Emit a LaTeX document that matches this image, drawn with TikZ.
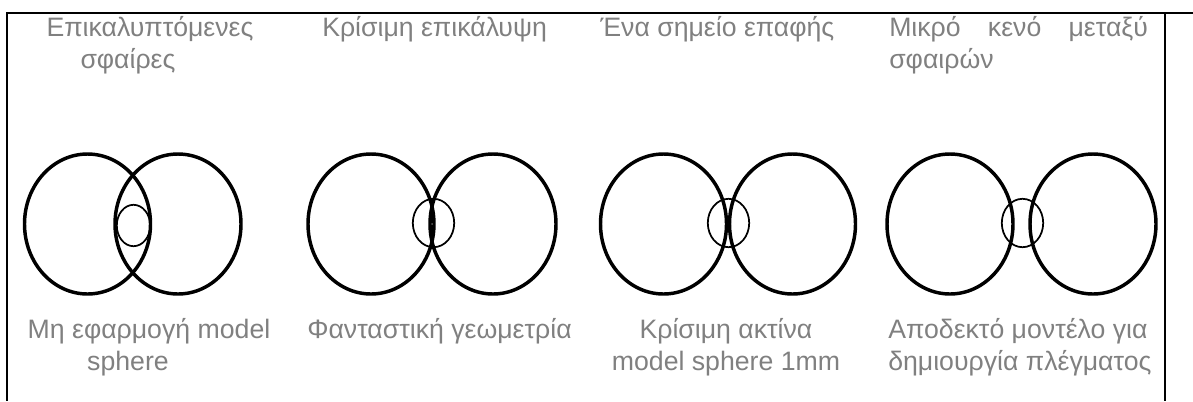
\documentclass[tikz,border=0pt]{standalone}
\usepackage{fontspec}
\setmainfont{Liberation Sans}
\definecolor{txtgray}{RGB}{128,128,128}
\tikzset{
  lbl/.style={inner sep=0pt, text=txtgray, font=\fontsize{20pt}{24pt}\selectfont},
  big/.style={draw=black, line width=2.6pt},
  small/.style={draw=black, line width=1.3pt},
  frame/.style={draw=black, line width=1.5pt}
}
\begin{document}
\begin{tikzpicture}[x=0.75pt,y=-0.75pt]
\useasboundingbox (0,0) rectangle (1193,401);
% frame
\coordinate (tl) at (7,13);
\coordinate (tr) at (1193,13);
\coordinate (bl) at (7,401);
\coordinate (rt) at (1165,13);
\coordinate (rb) at (1165,401);
\draw[frame] (tr) -- (tl) -- (bl);
\draw[frame] (rt) -- (rb);
% top labels
\node[lbl, anchor=base] (t1a) at (150,36) {Επικαλυπτόμενες};
\node[lbl, anchor=base] (t1b) at (128,68) {σφαίρες};
\node[lbl, anchor=base west] (t2) at (322,36) {Κρίσιμη επικάλυψη};
\node[lbl, anchor=base west] (t3) at (600,36) {Ένα σημείο επαφής};
\node[lbl, anchor=base west] (t4a) at (889,36) {\hbox to 194pt{Μικρό\hfil κενό\hfil μεταξύ}};
\node[lbl, anchor=base west] (t4b) at (889,68) {σφαιρών};
% bottom labels
\node[lbl, anchor=base] (b1a) at (149,338) {Μη εφαρμογή model};
\node[lbl, anchor=base] (b1b) at (128,370) {sphere};
\node[lbl, anchor=base west] (b2) at (307,338) {Φανταστική γεωμετρία};
\node[lbl, anchor=base] (b3a) at (726,338) {Κρίσιμη ακτίνα};
\node[lbl, anchor=base] (b3b) at (726,370) {model sphere 1mm};
\node[lbl, anchor=base west] (b4a) at (888,338) {Αποδεκτό μοντέλο για};
\node[lbl, anchor=base west] (b4b) at (888,370) {δημιουργία πλέγματος};
% panel 1
\draw[big] (87.5,224) ellipse [x radius=63, y radius=70];
\draw[big] (178,224) ellipse [x radius=63, y radius=70];
\draw[small] (133.5,225.5) ellipse [x radius=16.7, y radius=20.7];
% panel 2
\draw[big] (371,224) ellipse [x radius=63, y radius=70];
\draw[big] (493,224) ellipse [x radius=63, y radius=70];
\draw[small] (433.5,223) ellipse [x radius=20.7, y radius=24.2];
% panel 3
\draw[big] (663.5,224) ellipse [x radius=63, y radius=70];
\draw[big] (792.5,224) ellipse [x radius=63, y radius=70];
\draw[small] (728.5,223) ellipse [x radius=20.7, y radius=24.2];
% panel 4
\draw[big] (950,224) ellipse [x radius=63, y radius=70];
\draw[big] (1093,224) ellipse [x radius=63, y radius=70];
\draw[small] (1022.5,223) ellipse [x radius=20.7, y radius=24.2];
\end{tikzpicture}
\end{document}
